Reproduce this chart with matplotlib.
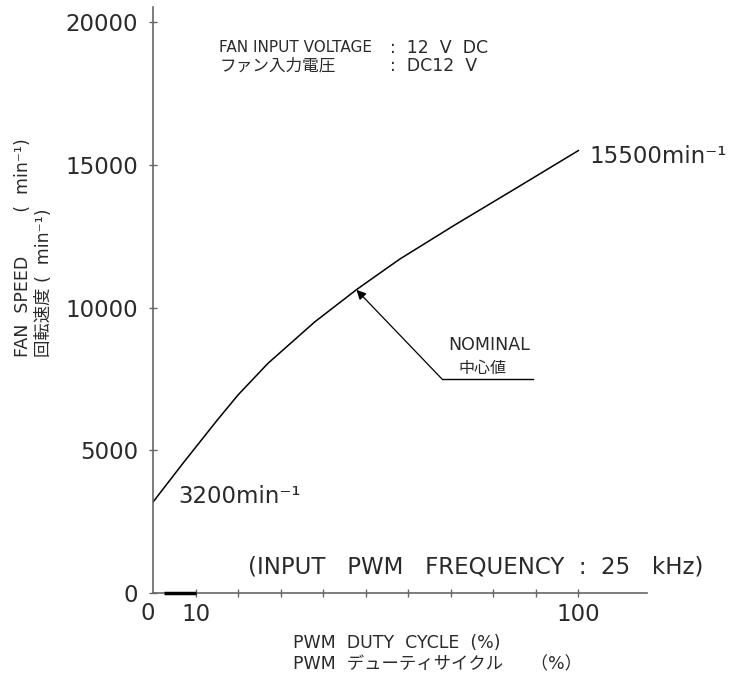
import matplotlib
matplotlib.use("Agg")
import matplotlib.pyplot as plt

plt.rcParams['font.family'] = ['DejaVu Sans', 'Noto Sans CJK JP']

# data
duty = [0, 7, 15, 20, 27, 38, 48, 58, 71, 85, 100]
speed = [3200, 4550, 6050, 6950, 8050, 9500, 10650, 11700, 12900, 14150, 15500]
yticks = [0, 5000, 10000, 15000, 20000]
xticks = [10, 20, 30, 40, 50, 60, 70, 80, 90, 100]
xticklabels = ['10', '', '', '', '', '', '', '', '', '100']
low_band = [2.4, 10]
nominal_at = (47.8, 10620)
nominal_tail = (67.9, 7500)
nominal_line_end = 89.3

INK = '#2a2a2a'
AXC = '#666666'

fig = plt.figure(figsize=(7.4, 6.82), dpi=100)
ax = fig.add_axes([0.2072, 0.1305, 0.6668, 0.8588])

ax.plot(duty, speed, color='black', lw=1.1)
ax.plot(low_band, [0, 0], color='black', lw=2.5, solid_capstyle='butt', clip_on=False, zorder=5)

ax.set_xlim(0, 116.1)
ax.set_ylim(0, 20520)
for s in ['top', 'right']:
    ax.spines[s].set_visible(False)
for s in ['left', 'bottom']:
    ax.spines[s].set_color(AXC)
    ax.spines[s].set_linewidth(1.2)

ax.set_yticks(yticks)
ax.set_yticklabels([str(v) for v in yticks])
ax.set_xticks(xticks)
ax.set_xticklabels(xticklabels)
ax.tick_params(axis='both', direction='inout', length=6, width=1, color=AXC,
               labelsize=16.5, labelcolor=INK)
ax.tick_params(axis='y', pad=8)
ax.tick_params(axis='x', pad=4)
ax.text(-1.4, -300, '0', ha='center', va='top', fontsize=16.5, color=INK)

# notes
big = 16.5
mid = 12.5
ax.text(15.5, 19097, 'FAN INPUT VOLTAGE', ha='left', va='center', fontsize=11, color=INK)
ax.text(55.6, 19097, ':  12  V  DC', ha='left', va='center', fontsize=mid, color=INK)
ax.text(15.5, 18466, 'ファン入力電圧', ha='left', va='center', fontsize=12, color=INK)
ax.text(55.6, 18466, ':  DC12  V', ha='left', va='center', fontsize=mid, color=INK)

ax.text(5.8, 3364, '3200min⁻¹', ha='left', va='center', fontsize=big, color=INK)
ax.text(102.7, 15277, '15500min⁻¹', ha='left', va='center', fontsize=big, color=INK, clip_on=False)
ax.text(22.3, 911, '(INPUT   PWM   FREQUENCY  :  25   kHz)', ha='left', va='center',
        fontsize=big, color=INK, clip_on=False)

# nominal callout
ax.annotate('', xy=nominal_at, xytext=nominal_tail,
            arrowprops=dict(arrowstyle='-|>', color='black', lw=0.9,
                            mutation_scale=14, shrinkA=0, shrinkB=0))
ax.plot([nominal_tail[0], nominal_line_end], [nominal_tail[1], nominal_tail[1]], color='black', lw=1.0)
ax.text(69.4, 8690, 'NOMINAL', ha='left', va='center', fontsize=mid, color=INK)
ax.text(71.8, 7850, '中心値', ha='left', va='center', fontsize=11.5, color=INK)

# axis titles
fig.text(293 / 740, (682 - 643) / 682, 'PWM  DUTY  CYCLE  (%)', ha='left', va='center',
         fontsize=mid, color=INK)
fig.text(293 / 740, (682 - 664) / 682, 'PWM  デューティサイクル     （%）', ha='left', va='center',
         fontsize=mid, color=INK)
fig.text(23 / 740, (682 - 357) / 682, 'FAN  SPEED        (  min⁻¹)', rotation=90,
         ha='center', va='bottom', fontsize=12.5, color=INK)
fig.text(44 / 740, (682 - 357) / 682, '回転速度 (  min⁻¹)', rotation=90,
         ha='center', va='bottom', fontsize=12.5, color=INK)

fig.savefig('out.png', dpi=100)
